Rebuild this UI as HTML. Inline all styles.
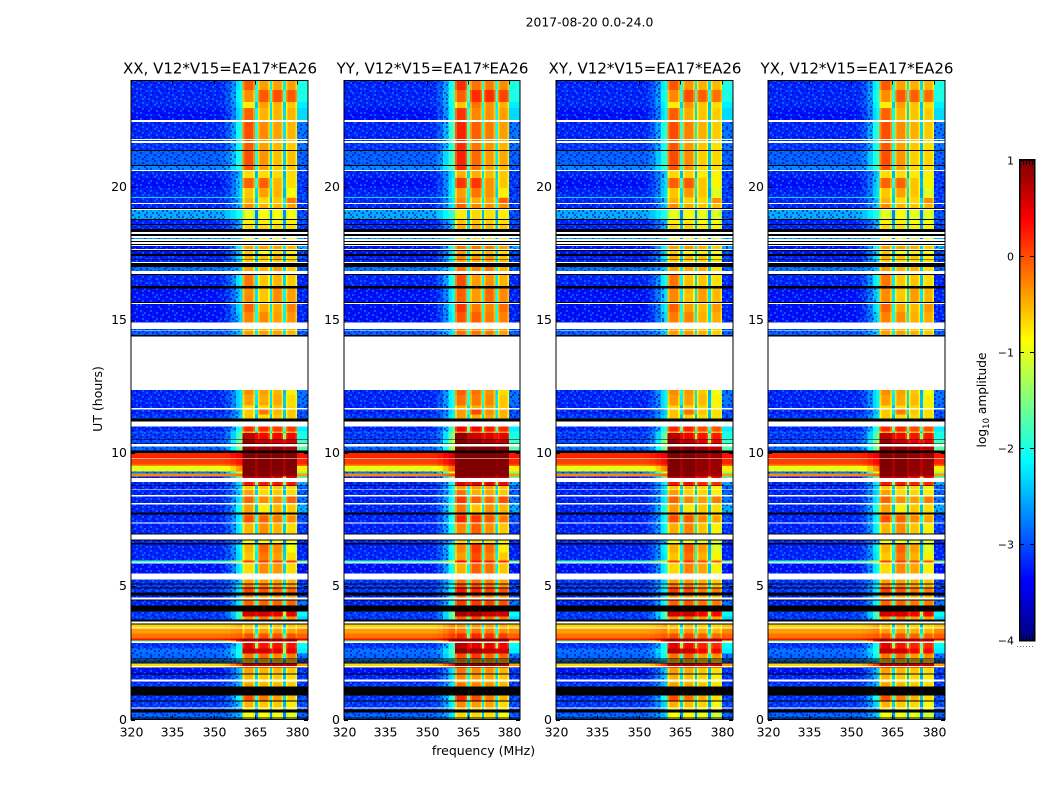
<!DOCTYPE html>
<html lang="en">
<head>
<meta charset="utf-8">
<title>2017-08-20 spectrogram</title>
<style>
html,body{margin:0;padding:0;background:#fff;}
svg{display:block;}
text{font-family:"DejaVu Sans","Liberation Sans",sans-serif;fill:#000;}
</style>
</head>
<body>
<svg id="figure" xmlns="http://www.w3.org/2000/svg" width="1050" height="800" viewBox="0 0 1050 800" shape-rendering="crispEdges">
  <defs>
    <pattern id="speckle" patternUnits="userSpaceOnUse" width="32" height="24"></pattern>
  </defs>
  <text x="589.5" y="26.5" font-size="12.4" text-anchor="middle">2017-08-20 0.0-24.0</text>
  <g id="panels"></g>
  <text x="483.5" y="755" font-size="12.5" text-anchor="middle">frequency (MHz)</text>
  <text transform="translate(102,399) rotate(-90)" font-size="12.5" text-anchor="middle">UT (hours)</text>
  <g id="colorbar"></g>
  <text transform="translate(986,400) rotate(-90)" font-size="12.2" text-anchor="middle">log<tspan font-size="8.5" dy="3">10</tspan><tspan dy="-3"> amplitude</tspan></text>
</svg>
<script>
const panelTitles = ["XX, V12*V15=EA17*EA26", "YY, V12*V15=EA17*EA26", "XY, V12*V15=EA17*EA26", "YX, V12*V15=EA17*EA26"];
const xTicks = [320, 335, 350, 365, 380];
const yTicks = [0, 5, 10, 15, 20];
const colorbarTicks = [1, 0, -1, -2, -3, -4];

/* Frequency channels (MHz) */
const bandEdges = [[360.4, 364.8], [365.9, 370.2], [370.9, 375.0], [376.0, 380.0]];
const rampEdges = [320, 352, 354, 356, 358, 359.3, 360.4];
const rampWeights = [0, 0.05, 0.2, 0.5, 0.85, 1];

/* log10 amplitude offsets per polarisation */
const polBandOffset = [[0, 0, 0, 0], [0.22, 0.22, 0.18, 0.1], [0.02, 0.05, -0.08, -0.12], [0, 0, -0.08, -0.1]];
const polShoulderOffset = [0, 0.2, 0.05, 0.05];

const W = null;
const K = "flagged";
/* [UT start of row (hours), background, shoulder, band1, band2, band3, band4, upper edge]  (log10 amplitude) */
const timeRows = [
[24.00,-3.0,-2.1,-0.05,-0.4,-0.4,-0.4,-2.0],
[23.66,-3.0,-2.0,-0.3,-0.05,0.0,-0.05,-2.0],
[23.21,-3.0,-2.1,-0.8,-0.4,-0.5,-0.6,-2.2],
[22.99,-3.1,-2.2,-0.1,-0.5,-0.5,-0.5,-2.3],
[22.53,W],
[22.46,-3.0,-1.9,0.0,-0.3,-0.4,-0.5,-2.6],
[21.82,W],
[21.78,-2.9,-2.0,-0.05,-0.4,-0.5,-0.6,-2.6],
[21.74,W],
[21.67,-2.9,-2.0,-0.05,-0.4,-0.5,-0.6,-2.6],
[21.41,K],
[21.37,-2.7,-1.9,0.0,-0.35,-0.55,-0.55,-2.7],
[20.84,K],
[20.80,-2.5,-1.9,-0.05,-0.4,-0.6,-0.6,-2.7],
[20.65,W],
[20.62,-3.0,-2.4,-0.7,-0.7,-0.7,-0.7,-2.9],
[20.35,-3.1,-2.3,-0.1,-0.1,-0.5,-0.7,-2.9],
[19.98,-3.0,-2.3,-0.6,-0.4,-0.5,-0.9,-2.9],
[19.64,-2.1,-1.9,-0.6,-0.6,-0.6,-0.7,-2.7],
[19.60,-3.0,-2.4,-0.5,-0.7,-0.6,-0.2,-2.9],
[19.41,W],
[19.37,-3.0,-2.4,-0.3,-0.5,-0.5,-0.4,-2.9],
[19.22,K],
[19.18,W],
[19.15,-2.3,-2.0,-1.0,-0.9,-0.9,-0.9,-2.8],
[18.81,K],
[18.77,-3.0,-2.5,-0.8,-0.8,-0.8,-0.8,-2.8],
[18.62,K],
[18.58,-3.0,-2.5,-0.7,-0.7,-0.7,-0.7,-2.9],
[18.43,K],
[18.32,W],
[18.25,K],
[18.18,W],
[18.10,-2.4,-2.3,-0.9,-0.9,-0.9,-0.9,-2.5],
[18.06,W],
[17.98,K],
[17.94,W],
[17.91,W],
[17.87,K],
[17.83,W],
[17.79,-3.1,-2.0,-0.4,-0.4,-0.4,-0.5,-2.5],
[17.68,W],
[17.64,K],
[17.61,-3.1,-2.4,-0.6,-0.9,-0.7,-0.8,-2.9],
[17.49,K],
[17.42,-3.0,-2.2,-0.5,-0.6,-0.5,-0.7,-2.8],
[17.30,K],
[17.27,-3.0,-2.4,-0.6,-0.7,-0.6,-0.6,-2.9],
[17.19,W],
[17.15,K],
[17.00,-2.6,-2.4,-0.4,-0.5,-0.4,-0.6,-2.7],
[16.85,W],
[16.74,K],
[16.70,-3.0,-2.1,-0.2,-0.6,-0.5,-0.6,-3.0],
[16.29,K],
[16.21,-3.1,-2.3,-0.3,-0.6,-0.3,-0.4,-3.0],
[15.69,K],
[15.65,W],
[15.61,-3.1,-2.2,-0.1,-0.45,-0.45,-0.25,-3.0],
[15.31,-3.1,-2.3,-0.25,-0.3,-0.4,-0.35,-3.0],
[14.93,W],
[14.67,-2.8,-2.5,-0.4,-0.5,-0.5,-0.5,-2.8],
[14.63,W],
[14.60,-2.7,-2.4,-0.4,-0.4,-0.4,-0.5,-2.7],
[14.45,K],
[14.39,W],
[12.38,-3.0,-2.2,-0.3,-0.4,-0.5,-0.8,-2.6],
[12.19,-3.0,-2.2,-0.4,-0.45,-0.45,-0.7,-2.6],
[11.81,-3.0,-2.2,-0.7,-0.7,-0.6,-0.7,-2.7],
[11.70,W],
[11.66,-3.0,-2.4,-0.6,-0.2,-0.5,-0.6,-2.8],
[11.47,-2.9,-2.3,-0.6,-0.7,-0.6,-0.6,-2.8],
[11.32,K],
[11.21,W],
[11.02,-3.0,-1.9,0.2,0.2,0.1,0.1,-2.2],
[10.83,-2.7,-1.7,-0.5,-0.5,-0.5,-0.5,-2.0],
[10.76,-2.9,-1.6,0.7,0.4,0.4,0.4,-2.0],
[10.53,K],
[10.50,-2.8,-1.4,0.9,0.7,0.6,0.6,-1.8],
[10.38,K],
[10.35,W],
[10.27,-2.7,-1.4,0.9,0.9,0.9,0.8,-1.7],
[10.12,K],
[10.01,0.2,0.4,1.0,1.0,1.0,1.0,0.3],
[9.82,0.05,0.3,1.0,1.0,1.0,1.0,0.2],
[9.59,-0.3,0.1,1.0,1.0,1.0,1.0,-0.1],
[9.52,-1.0,-0.3,1.0,1.0,1.0,1.0,-0.8],
[9.33,-2.6,-1.0,1.0,1.0,1.0,1.0,-1.4],
[9.25,-0.3,-0.2,1.0,1.0,0.9,0.9,-0.4],
[9.14,-3.0,-1.5,0.6,0.6,0.5,0.5,-1.8],
[9.07,W],
[8.92,-3.0,-2.2,0.3,0.3,0.3,0.3,-2.5],
[8.80,K],
[8.77,-3.0,-2.3,-0.6,-0.6,-0.6,-0.7,-2.7],
[8.65,W],
[8.62,-3.0,-2.3,-0.4,-0.7,-0.6,-0.7,-2.7],
[8.43,W],
[8.39,-3.0,-2.2,-0.1,-0.3,-0.3,-0.1,-2.6],
[8.13,W],
[8.09,-3.0,-1.9,-0.4,-0.8,-0.5,-0.6,-2.5],
[7.79,K],
[7.71,-3.0,-2.2,-0.2,-0.3,-0.4,-0.5,-2.8],
[7.64,-3.0,-2.1,0.0,-0.1,-0.2,-0.3,-2.8],
[7.41,W],
[7.37,-3.0,-2.1,-0.5,-0.3,-0.5,-0.7,-2.9],
[7.00,K],
[6.96,W],
[6.77,K],
[6.73,-3.0,-2.5,-0.9,-0.9,-0.9,-0.9,-3.0],
[6.64,K],
[6.58,-3.0,-2.1,-0.5,-0.1,-0.3,-0.9,-3.0],
[6.28,-3.0,-2.2,-0.6,-0.2,-0.4,-0.7,-3.0],
[5.98,-1.8,-1.2,0.1,0.1,0.1,0.1,-1.5],
[5.91,W],
[5.87,-3.1,-2.1,-0.7,-0.3,-0.35,-0.7,-3.1],
[5.49,W],
[5.27,-2.9,-2.3,-0.4,-0.4,-0.4,-0.5,-2.9],
[5.12,K],
[5.08,-2.9,-2.2,-0.2,-0.2,-0.3,-0.4,-2.8],
[4.97,K],
[4.93,-2.9,-2.2,0.1,0.0,-0.1,-0.1,-2.9],
[4.78,K],
[4.66,-3.0,-2.2,-0.3,-0.4,-0.4,-0.4,-2.8],
[4.59,W],
[4.51,K],
[4.48,-3.0,-2.1,-0.1,-0.1,-0.1,-0.1,-2.6],
[4.29,K],
[4.06,-2.9,-1.7,0.6,0.6,0.5,0.5,-2.1],
[3.87,-2.9,-1.8,-0.3,-0.2,-0.3,-0.3,-2.3],
[3.76,K],
[3.69,W],
[3.61,K],
[3.57,-0.7,-0.5,-0.6,-0.6,-0.6,-0.6,-0.6],
[3.46,W],
[3.42,-0.4,-0.3,-0.4,-0.4,-0.4,-0.4,-0.3],
[3.24,-0.2,-0.1,0.0,0.0,0.0,0.0,-0.1],
[3.05,0.3,0.7,0.9,0.9,0.9,0.9,0.5],
[2.97,-1.8,0.7,0.9,0.9,0.9,0.9,-1.2],
[2.93,W],
[2.87,-2.9,-2.0,0.5,0.3,0.3,0.3,-2.1],
[2.67,-2.6,-1.9,0.7,0.6,0.5,0.5,-2.2],
[2.48,-2.7,-2.0,-0.2,-0.1,-0.3,-0.2,-2.6],
[2.29,K],
[2.26,-2.4,-2.2,-0.6,-0.6,-0.6,-0.6,-2.6],
[2.22,K],
[2.18,-2.8,-2.4,-0.7,-0.7,-0.7,-0.7,-2.8],
[2.14,K],
[2.11,-0.7,0.1,0.8,0.8,0.8,0.8,-0.4],
[2.02,W],
[1.98,-0.8,0.1,0.8,0.8,0.8,0.8,-0.5],
[1.96,-3.1,-2.4,-0.4,-0.5,-0.5,-0.6,-2.9],
[1.73,K],
[1.69,-3.0,-2.4,-0.5,-0.6,-0.6,-0.7,-2.9],
[1.50,W],
[1.43,-3.0,-2.6,-0.7,-0.7,-0.7,-0.7,-3.0],
[1.39,-2.9,-2.4,-0.4,-0.5,-0.5,-0.6,-2.9],
[1.24,K],
[0.90,-2.9,-2.0,0.0,-0.2,-0.4,-0.6,-2.8],
[0.71,K],
[0.68,-2.9,-2.3,-0.5,-0.6,-0.6,-0.8,-2.8],
[0.45,W],
[0.41,-2.9,-2.5,-0.8,-0.8,-0.8,-0.8,-2.9],
[0.38,K],
[0.26,-2.7,-2.4,-0.9,-0.9,-0.9,-1.0,-2.7],
[0.08,K],
[0.04,-2.7,-2.5,-1.0,-1.0,-1.0,-1.0,-2.8]
];

/* Speckle tile for the low-amplitude background: d = darker pixel, l = lighter pixel */
const speckleTile = [
"d..l.d..ld.d..l.",
".l.d...l..l..d.d",
"..d.l.d..d..l...",
"l...d..l...d..ld",
".d.l..d..l.d.l..",
"d..d.l...d...d.l",
".l...d.ld..l...d",
"..ld...d..l.d.l.",
"d...l.l..d...d..",
".d.d...d.l.l...l",
"l...ld...d..d.d.",
"..d...l.d..l...d"
];

const NS = "http://www.w3.org/2000/svg";
const panelBoxes = [[131, 177], [344, 176], [556, 177], [768, 177]];
const plotTop = 81, plotBottom = 719.5;
const freqMin = 320, freqMax = 384, hourMin = 0, hourMax = 24;
const vMin = -4, vMax = 1;
const bandEdgeWidth = 0.6, bandEdgeDrop = 0.3, gapDrop = 1.8, quietShift = -0.2;

function svgEl(tag, attrs) {
  const el = document.createElementNS(NS, tag);
  for (const k in attrs) el.setAttribute(k, attrs[k]);
  return el;
}
function xScale(f, box) { return box[0] + (f - freqMin) / (freqMax - freqMin) * box[1]; }
function yScale(h) { return plotBottom - (h - hourMin) / (hourMax - hourMin) * (plotBottom - plotTop); }
function clamp01(t) { return Math.max(0, Math.min(1, t)); }
function jet(v) {
  const t = clamp01((v - vMin) / (vMax - vMin));
  const r = clamp01(Math.min(4 * t - 1.5, -4 * t + 4.5));
  const g = clamp01(Math.min(4 * t - 0.5, -4 * t + 3.5));
  const b = clamp01(Math.min(4 * t + 0.5, -4 * t + 2.5));
  return "rgb(" + Math.round(r * 255) + "," + Math.round(g * 255) + "," + Math.round(b * 255) + ")";
}

/* speckle pattern */
const patternNode = document.getElementById("speckle");
speckleTile.forEach(function (line, j) {
  line.split("").forEach(function (ch, i) {
    if (ch === ".") return;
    const dot = svgEl("rect", { x: i * 2, y: j * 2, width: 2, height: 2, fill: ch === "d" ? "rgba(0,0,190,0.6)" : "rgba(0,130,255,0.65)" });
    
    
    patternNode.appendChild(dot);
  });
});

function addCell(g, box, f0, f1, y0, y1, fill) {
  const x0 = xScale(f0, box), x1 = xScale(f1, box);
  const cell = svgEl("rect", { x: x0.toFixed(2), y: y0.toFixed(2), width: (x1 - x0).toFixed(2), height: (y1 - y0).toFixed(2), fill: fill });
  
  
  g.appendChild(cell);
}

function drawPanel(p) {
  const box = panelBoxes[p];
  const root = document.getElementById("panels");
  const g = svgEl("g", {});
  
  
  root.appendChild(g);

  const title = svgEl("text", { x: box[0] + box[1] / 2 + 0.5, y: 73.5, "font-size": 15, "text-anchor": "middle" });
  
  
  title.textContent = panelTitles[p];
  g.appendChild(title);

  timeRows.forEach(function (row, r) {
    const y0 = yScale(row[0]);
    const y1 = yScale(r + 1 < timeRows.length ? timeRows[r + 1][0] : hourMin);
    if (row[1] === W) return;
    if (row[1] === K) { addCell(g, box, freqMin, freqMax, y0, y1, "#000"); return; }
    const bg = row[1] < -2 ? row[1] + quietShift : row[1];
    const sh = row[2] + polShoulderOffset[p];
    rampWeights.forEach(function (w, i) {
      const v = bg + (sh - bg) * w;
      addCell(g, box, rampEdges[i], rampEdges[i + 1], y0, y1, jet(v));
      if (v < -2.4) addCell(g, box, rampEdges[i], rampEdges[i + 1], y0, y1, "url(#speckle)");
    });
    const bands = [row[3], row[4], row[5], row[6]].map(function (v, i) { return v + polBandOffset[p][i]; });
    bands.forEach(function (v, i) {
      const edgeV = v < 0.6 ? v - bandEdgeDrop : v;
      const f0 = bandEdges[i][0], f1 = bandEdges[i][1];
      addCell(g, box, f0, f0 + bandEdgeWidth, y0, y1, jet(edgeV));
      addCell(g, box, f0 + bandEdgeWidth, f1 - bandEdgeWidth, y0, y1, jet(v));
      addCell(g, box, f1 - bandEdgeWidth, f1, y0, y1, jet(edgeV));
      if (i < 3) {
        const avg = (v + bands[i + 1]) / 2;
        addCell(g, box, f1, bandEdges[i + 1][0], y0, y1, jet(avg > 0.5 ? avg - 0.2 : avg - gapDrop));
      }
    });
    const rt = row[7] < -2.5 ? row[7] + quietShift : row[7];
    addCell(g, box, bandEdges[3][1], freqMax, y0, y1, jet(rt));
    if (rt < -2.4) addCell(g, box, bandEdges[3][1], freqMax, y0, y1, "url(#speckle)");
  });

  const frame = svgEl("rect", { x: box[0], y: plotTop - 0.5, width: box[1], height: plotBottom - plotTop + 0.5, fill: "none", stroke: "#000", "stroke-width": 1 });
  
  
  g.appendChild(frame);

  xTicks.forEach(function (f) {
    const x = Math.round(xScale(f, box)) + 0.5;
    [[plotBottom, plotBottom - 4], [plotTop - 0.5, plotTop + 3.5]].forEach(function (s) {
      const t = svgEl("line", { x1: x, x2: x, y1: s[0], y2: s[1], stroke: "#000", "stroke-width": 1 });
      
      
      g.appendChild(t);
    });
    const lab = svgEl("text", { x: x, y: 736.5, "font-size": 12.5, "text-anchor": "middle" });
    
    
    lab.textContent = f;
    g.appendChild(lab);
  });
  yTicks.forEach(function (h) {
    const y = Math.round(yScale(h)) + 0.5;
    [[box[0], box[0] + 4], [box[0] + box[1], box[0] + box[1] - 4]].forEach(function (s) {
      const t = svgEl("line", { x1: s[0], x2: s[1], y1: y, y2: y, stroke: "#000", "stroke-width": 1 });
      
      
      g.appendChild(t);
    });
    const lab = svgEl("text", { x: box[0] - 4, y: y + 3.5, "font-size": 12.5, "text-anchor": "end" });
    
    
    lab.textContent = h;
    g.appendChild(lab);
  });
}
panelTitles.forEach(function (_, p) { drawPanel(p); });

/* colorbar */
const cbLeft = 1020, cbRight = 1034, cbTop = 160, cbBottom = 640;
function cbY(v) { return cbBottom - (v - vMin) / (vMax - vMin) * (cbBottom - cbTop); }
const cb = document.getElementById("colorbar");
const cbSteps = 120;
for (let i = 0; i < cbSteps; i++) {
  const v0 = vMin + (vMax - vMin) * i / cbSteps;
  const v1 = vMin + (vMax - vMin) * (i + 1) / cbSteps;
  const seg = svgEl("rect", { x: cbLeft, y: cbY(v1).toFixed(2), width: cbRight - cbLeft, height: (cbY(v0) - cbY(v1) + 0.3).toFixed(2), fill: jet((v0 + v1) / 2) });
  
  
  cb.appendChild(seg);
}
const cbFrame = svgEl("rect", { x: cbLeft - 0.5, y: cbTop - 0.5, width: cbRight - cbLeft + 1, height: cbBottom - cbTop + 1, fill: "none", stroke: "#000", "stroke-width": 1.5 });


cb.appendChild(cbFrame);
colorbarTicks.forEach(function (v) {
  const y = Math.round(cbY(v)) + 0.5;
  [[cbLeft, cbLeft + 4], [cbRight, cbRight - 4]].forEach(function (s) {
    const t = svgEl("line", { x1: s[0], x2: s[1], y1: y, y2: y, stroke: "#000", "stroke-width": 1 });
    
    
    cb.appendChild(t);
  });
  const lab = svgEl("text", { x: 1014, y: y + 4, "font-size": 11, "text-anchor": "end" });
  
  
  lab.textContent = v < 0 ? "\u2212" + Math.abs(v) : String(v);
  cb.appendChild(lab);
});
for (let x = cbLeft + 3; x < cbRight; x += 3) {
  [[cbTop, cbTop + 5], [cbBottom, cbBottom - 5]].forEach(function (s) {
    const m = svgEl("line", { x1: x + 0.5, x2: x + 0.5, y1: s[0], y2: s[1], stroke: "#000", "stroke-width": 1 });
    
    
    cb.appendChild(m);
  });
}
const dots = svgEl("line", { x1: 1017, x2: 1035, y1: 646.5, y2: 646.5, stroke: "#777", "stroke-width": 1, "stroke-dasharray": "1,2" });


cb.appendChild(dots);
</script>
</body>
</html>
